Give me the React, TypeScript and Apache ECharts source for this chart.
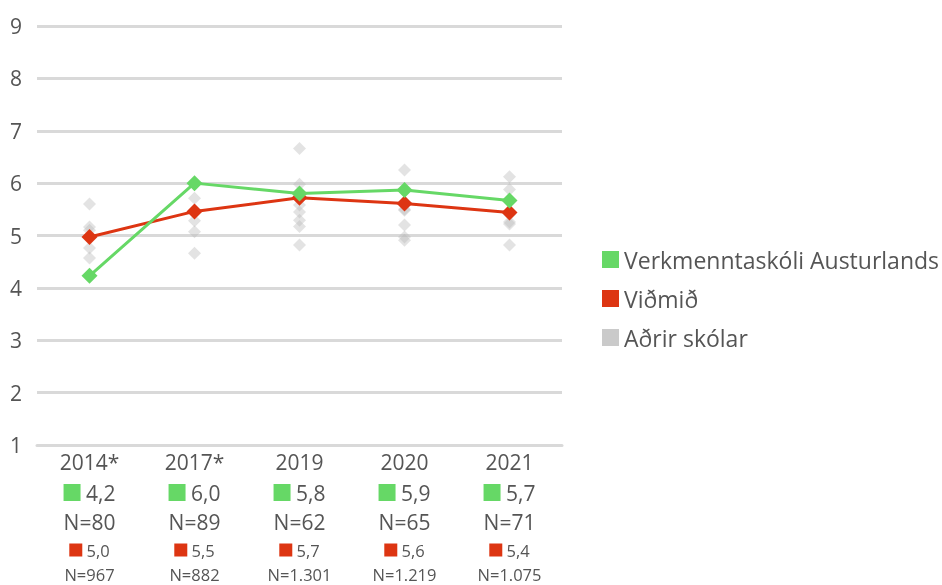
import React, { useEffect, useRef } from "react";
import * as echarts from "echarts";

const categories = ["2014*", "2017*", "2019", "2020", "2021"];
const schoolValues = [4.23, 6.0, 5.8, 5.87, 5.67];
const schoolN = ["80", "89", "62", "65", "71"];
const benchmarkValues = [4.97, 5.46, 5.72, 5.61, 5.44];
const benchmarkN = ["967", "882", "1.301", "1.219", "1.075"];
const otherSchools: number[][] = [
  [5.6, 5.16, 5.1, 4.97, 4.76, 4.57],
  [5.71, 5.48, 5.28, 5.07, 4.66],
  [6.66, 5.98, 5.7, 5.58, 5.45, 5.29, 5.17, 4.82],
  [6.25, 5.85, 5.5, 5.48, 5.2, 4.97, 4.91],
  [6.12, 5.88, 5.4, 5.26, 5.22, 4.82],
];
const yTicks = { min: 1, max: 9, interval: 1 };

const GREEN = "#66d866";
const RED = "#dd3512";
const GRAY = "#bdbdbd";
const TEXT = "#555555";
const FONT = "'Open Sans', 'Noto Sans', sans-serif";

const fmt = (v: number) => v.toFixed(1).replace(".", ",");

export default function App() {
  const ref = useRef<HTMLDivElement>(null);
  useEffect(() => {
    if (!ref.current) return;
    const chart = echarts.init(ref.current, null, { renderer: "svg" });
    const scatterData: number[][] = [];
    otherSchools.forEach((arr, i) => arr.forEach((v) => scatterData.push([i, v])));
    chart.setOption({
      animation: false,
      textStyle: { fontFamily: FONT },
      grid: { left: 37, right: 380, top: 26, bottom: 140 },
      legend: {
        orient: "vertical",
        left: 597,
        top: 243,
        itemWidth: 17,
        itemHeight: 17,
        itemGap: 16,
        icon: "rect",
        textStyle: { fontSize: 23, lineHeight: 23, color: TEXT, fontFamily: FONT, padding: [0, 0, 0, 0] },
        data: [
          { name: "Verkmenntaskóli Austurlands", itemStyle: { color: GREEN } },
          { name: "Viðmið", itemStyle: { color: RED } },
          { name: "Aðrir skólar", itemStyle: { color: GRAY } },
        ],
      },
      xAxis: {
        type: "category",
        data: categories,
        boundaryGap: true,
        axisLine: { show: true, lineStyle: { color: "#d9d9d9", width: 3 } },
        axisTick: { show: false },
        axisLabel: {
          margin: 2,
          interval: 0,
          formatter: (v: string, i: number) =>
            `{y|${v}}\n{gs|}{gv| ${fmt(schoolValues[i])}}\n{n|N=${schoolN[i]}}\n{rs|}{rv| ${fmt(benchmarkValues[i])}}\n{m|N=${benchmarkN[i]}}`,
          rich: {
            y: { fontSize: 21, color: TEXT, lineHeight: 30, fontFamily: FONT },
            gs: { width: 17, height: 17, backgroundColor: GREEN },
            gv: { fontSize: 21, color: TEXT, lineHeight: 31, fontFamily: FONT },
            n: { fontSize: 21, color: TEXT, lineHeight: 28, fontFamily: FONT },
            rs: { width: 13, height: 13, backgroundColor: RED },
            rv: { fontSize: 16.5, color: TEXT, lineHeight: 28, fontFamily: FONT },
            m: { fontSize: 16.5, color: TEXT, lineHeight: 20, fontFamily: FONT },
          },
        },
      },
      yAxis: {
        type: "value",
        min: yTicks.min,
        max: yTicks.max,
        interval: yTicks.interval,
        axisLine: { show: false },
        axisTick: { show: false },
        axisLabel: { fontSize: 21, color: TEXT, margin: 15, padding: [0, 0, 10, 0], fontFamily: FONT },
        splitLine: { lineStyle: { color: "#d9d9d9", width: 3 } },
      },
      series: [
        {
          name: "Aðrir skólar",
          type: "scatter",
          symbol: "diamond",
          symbolSize: 13,
          itemStyle: { color: "rgba(185,185,185,0.5)" },
          data: scatterData,
          z: 1,
        },
        {
          name: "Viðmið",
          type: "line",
          data: benchmarkValues,
          symbol: "diamond",
          symbolSize: 16,
          lineStyle: { color: RED, width: 3 },
          itemStyle: { color: RED },
          z: 3,
        },
        {
          name: "Verkmenntaskóli Austurlands",
          type: "line",
          data: schoolValues,
          symbol: "diamond",
          symbolSize: 16,
          lineStyle: { color: GREEN, width: 3 },
          itemStyle: { color: GREEN },
          z: 4,
        },
      ],
    });
    return () => chart.dispose();
  }, []);
  return (
    <div
      ref={ref}
      style={{ position: "fixed", left: 0, top: 0, width: 942, height: 585 }}
    />
  );
}
